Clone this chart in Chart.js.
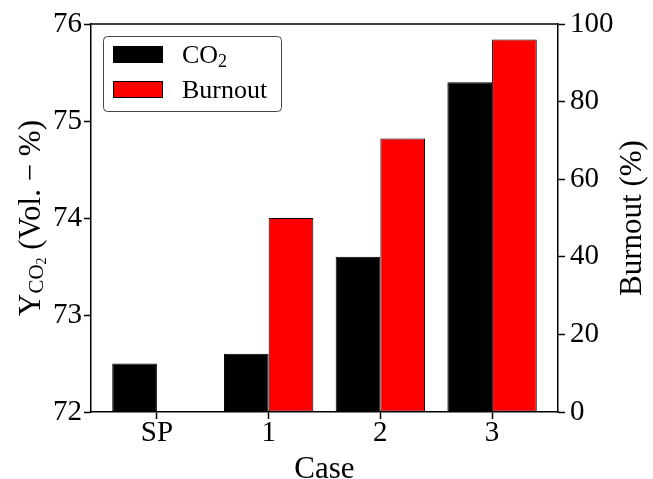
<!DOCTYPE html>
<html>
<head>
<meta charset="utf-8">
<script src="https://cdn.jsdelivr.net/npm/chart.js@4.4.1/dist/chart.umd.min.js"></script>
<style>
  html, body { margin: 0; padding: 0; background: #fff; }
  canvas { display: block; }
</style>
</head>
<body>
<canvas id="chart" width="653" height="479"></canvas>
<script>
'use strict';

// Cases along the x axis
const caseLabels = ['SP', '1', '2', '3'];
const casePos    = [0, 1, 2, 3];
// CO2 yield, left axis (Vol. %)
const co2Values     = [72.5, 72.6, 73.6, 75.4];
// Burnout, right axis (%)
const burnoutValues = [0, 50, 70.5, 96];

const leftTicks  = [72, 73, 74, 75, 76];
const rightTicks = [0, 20, 40, 60, 80, 100];

const SERIF = '"Liberation Serif", "DejaVu Serif", serif';
const TICK_FONT = { family: SERIF, size: 29 };
const LABEL_SIZE = 31;

const toPoints = vals => vals.map((v, i) => ({ x: casePos[i], y: v }));

// frame, axis titles and legend drawn by hand (subscripts)
const decorPlugin = {
  id: 'decor',
  afterDatasetsDraw(chart) {
    const { ctx, chartArea: a } = chart;
    ctx.save();
    ctx.strokeStyle = '#000';
    ctx.lineWidth = 1.5;
    ctx.beginPath();
    ctx.moveTo(a.left, a.top);
    ctx.lineTo(a.right, a.top);
    ctx.stroke();
    ctx.restore();
  },
  afterDraw(chart) {
    const { ctx, chartArea: a } = chart;
    const midY = (a.top + a.bottom) / 2;
    ctx.save();
    ctx.fillStyle = '#000';
    ctx.textBaseline = 'alphabetic';

    // x title
    ctx.font = `${LABEL_SIZE}px ${SERIF}`;
    ctx.textAlign = 'center';
    ctx.fillText('Case', (a.left + a.right) / 2, 478);

    // left title: Y_{CO2} (Vol. − %)
    const parts = [
      { t: 'Y', size: LABEL_SIZE, dy: 0 },
      { t: 'CO', size: 21, dy: 3 },
      { t: '2', size: 14, dy: 6 },
      { t: ' (Vol. \u2212 %)', size: LABEL_SIZE, dy: 0 }
    ];
    let total = 0;
    parts.forEach(p => {
      ctx.font = `${p.size}px ${SERIF}`;
      p.w = ctx.measureText(p.t).width;
      total += p.w;
    });
    ctx.save();
    ctx.translate(40, midY);
    ctx.rotate(-Math.PI / 2);
    ctx.textAlign = 'left';
    let x = -total / 2;
    parts.forEach(p => {
      ctx.font = `${p.size}px ${SERIF}`;
      ctx.fillText(p.t, x, p.dy);
      x += p.w;
    });
    ctx.restore();

    // right title
    ctx.save();
    ctx.translate(641, midY);
    ctx.rotate(-Math.PI / 2);
    ctx.textAlign = 'center';
    ctx.font = `${LABEL_SIZE}px ${SERIF}`;
    ctx.fillText('Burnout (%)', 0, 0);
    ctx.restore();

    // legend
    const lx = 103.5, ly = 36.5, lw = 178, lh = 75;
    ctx.beginPath();
    ctx.roundRect(lx, ly, lw, lh, 4);
    ctx.fillStyle = 'rgba(255,255,255,0.8)';
    ctx.fill();
    ctx.strokeStyle = '#444';
    ctx.lineWidth = 1;
    ctx.stroke();

    const rows = [46, 81];
    chart.data.datasets.forEach((ds, i) => {
      const y = rows[i];
      ctx.fillStyle = ds.backgroundColor;
      ctx.fillRect(113, y, 50, 17);
      ctx.strokeStyle = '#000';
      ctx.lineWidth = 1;
      ctx.strokeRect(113.5, y + 0.5, 49, 16);
      ctx.fillStyle = '#000';
      ctx.textAlign = 'left';
      const base = y + 17;
      if (ds.label === 'CO2') {
        ctx.font = `26px ${SERIF}`;
        ctx.fillText('CO', 182, base);
        const w = ctx.measureText('CO').width;
        ctx.font = `18px ${SERIF}`;
        ctx.fillText('2', 182 + w, base + 4);
      } else {
        ctx.font = `26px ${SERIF}`;
        ctx.fillText(ds.label, 182, base);
      }
    });
    ctx.restore();
  }
};

const axisGrid = {
  drawOnChartArea: false,
  drawTicks: true,
  tickLength: 7,
  tickColor: '#000',
  tickWidth: 1.5,
  offset: false
};
const axisBorder = { display: true, color: '#000', width: 1.5 };

new Chart(document.getElementById('chart').getContext('2d'), {
  type: 'bar',
  data: {
    datasets: [
      {
        label: 'CO2', data: toPoints(co2Values), yAxisID: 'y',
        backgroundColor: '#000000', borderColor: '#000', borderWidth: 1,
        borderSkipped: false, categoryPercentage: 0.8, barPercentage: 1.0
      },
      {
        label: 'Burnout', data: toPoints(burnoutValues), yAxisID: 'y1',
        backgroundColor: '#ff0000', borderColor: '#000', borderWidth: 1,
        borderSkipped: false, categoryPercentage: 0.8, barPercentage: 1.0
      }
    ]
  },
  options: {
    responsive: false,
    animation: false,
    layout: { padding: { top: 24, left: 0, right: 0, bottom: 0 } },
    plugins: { legend: { display: false }, tooltip: { enabled: false } },
    scales: {
      x: {
        type: 'linear', offset: false, min: -0.59, max: 3.59,
        afterBuildTicks: s => { s.ticks = casePos.map(v => ({ value: v })); },
        afterFit: s => { s.height = 67; },
        ticks: {
          color: '#000', font: TICK_FONT, padding: -3, maxRotation: 0,
          callback: v => caseLabels[casePos.indexOf(v)]
        },
        grid: axisGrid, border: axisBorder
      },
      y: {
        position: 'left', min: 72, max: 76,
        afterBuildTicks: s => { s.ticks = leftTicks.map(v => ({ value: v })); },
        afterFit: s => { s.width = 91; },
        ticks: { color: '#000', font: TICK_FONT, padding: 2 },
        grid: axisGrid, border: axisBorder
      },
      y1: {
        position: 'right', min: 0, max: 100,
        afterBuildTicks: s => { s.ticks = rightTicks.map(v => ({ value: v })); },
        afterFit: s => { s.width = 95; },
        ticks: { color: '#000', font: TICK_FONT, padding: 5 },
        grid: axisGrid, border: axisBorder
      }
    }
  },
  plugins: [decorPlugin]
});
</script>
</body>
</html>
